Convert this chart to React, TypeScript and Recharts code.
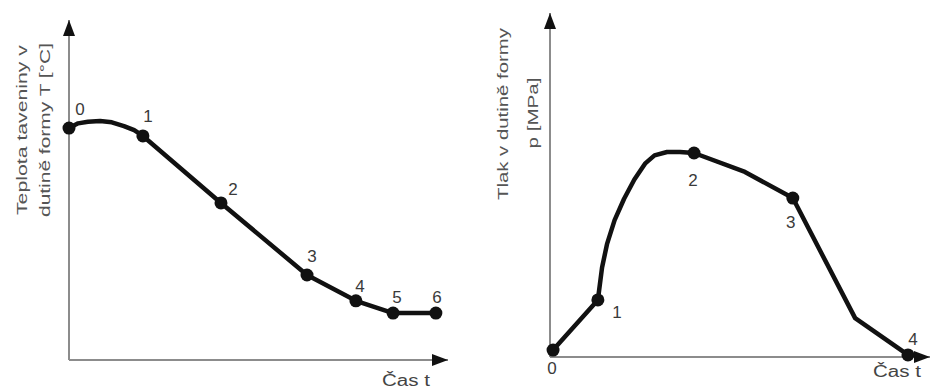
import { LineChart, Line, XAxis, YAxis } from "recharts"

// left: melt temperature in the mould cavity vs time (arbitrary units)
const leftTime = [0, 0.24, 0.5, 0.82, 1.13, 1.45, 1.72, 1.95, 4.01, 6.28, 7.57, 8.55, 9.68]
const leftTemp = [68.2, 69.6, 70.1, 70.3, 69.9, 68.8, 67.6, 65.9, 46.2, 25.0, 17.4, 13.8, 13.8]
const leftTags = ["0", null, null, null, null, null, null, "1", "2", "3", "4", "5", "6"]

// right: cavity pressure vs time (arbitrary units)
const rightTime = [0.08, 1.26, 1.37, 1.5, 1.7, 1.95, 2.22, 2.5, 2.75, 3.08, 3.42, 3.79, 5.13, 6.39, 8.03, 9.42]
const rightPress = [2.0, 16.6, 26.0, 32.8, 39.8, 46.0, 51.6, 56.2, 58.6, 59.6, 59.6, 59.3, 53.8, 46.2, 11.3, 0.6]
const rightTags = ["0", "1", null, null, null, null, null, null, null, null, null, "2", null, "3", null, "4"]

const leftData = leftTime.map((t, i) => ({ t, v: leftTemp[i], tag: leftTags[i] }))
const rightData = rightTime.map((t, i) => ({ t, v: rightPress[i], tag: rightTags[i] }))

const leftTagOffset: Record<string, [number, number]> = {
  "0": [11, -19], "1": [5, -19], "2": [12, -13], "3": [5, -19], "4": [4, -14], "5": [4, -16], "6": [1, -16],
}
const rightTagOffset: Record<string, [number, number]> = {
  "0": [-1, 18], "1": [19, 13], "2": [-1, 27], "3": [-2, 24], "4": [5, -15],
}

const FONT = "'Liberation Sans', Arial, sans-serif"

const makeDot = (offsets: Record<string, [number, number]>) => (props: any) => {
  const { cx, cy, payload, index } = props
  if (payload.tag == null) return <g key={index} />
  const [dx, dy] = offsets[payload.tag]
  return (
    <g key={index}>
      <circle cx={cx} cy={cy} r={6.5} fill="#111" />
      <text x={cx + dx} y={cy + dy} textAnchor="middle" dominantBaseline="central"
        fontSize={17} fill="#3a3a3a" fontFamily={FONT}>{payload.tag}</text>
    </g>
  )
}

const vText = (x: number, y: number, len: number, s: string) => (
  <text transform={`translate(${x},${y}) rotate(-90)`} textAnchor="middle" dominantBaseline="central"
    fontSize={15} fill="#555" fontFamily={FONT} textLength={len} lengthAdjust="spacingAndGlyphs">{s}</text>
)

const timeText = (x: number, y: number) => (
  <text x={x} y={y} textAnchor="middle" dominantBaseline="central" fontSize={16} fill="#444"
    fontFamily={FONT} textLength={48} lengthAdjust="spacingAndGlyphs">Čas t</text>
)

const xLine = { stroke: "#8c8c8c", strokeWidth: 2, markerEnd: "url(#axisArrow)" }
const yLine = { stroke: "#8c8c8c", strokeWidth: 2, markerStart: "url(#axisArrow)" }

export default function App() {
  return (
    <div style={{ position: "absolute", left: 0, top: 0, width: 932, height: 391, background: "#fff", fontFamily: FONT }}>
      <svg width={0} height={0} style={{ position: "absolute" }}>
        <defs>
          <marker id="axisArrow" viewBox="0 0 16 12" refX={16} refY={6} markerWidth={16} markerHeight={12}
            markerUnits="userSpaceOnUse" orient="auto-start-reverse">
            <path d="M0,0 L16,6 L0,12 z" fill="#111" />
          </marker>
        </defs>
      </svg>

      <div style={{ position: "absolute", left: 0, top: 0 }}>
        <LineChart width={470} height={391} data={leftData} margin={{ top: 20, right: 22, bottom: 1, left: 9 }}>
          <XAxis type="number" dataKey="t" domain={[0, 10]} tick={false} tickLine={false} axisLine={xLine}
            label={{ content: () => timeText(406, 380) }} />
          <YAxis type="number" domain={[0, 100]} tick={false} tickLine={false} axisLine={yLine}
            label={{ content: () => (
              <g>
                {vText(21, 130, 170, "Teplota taveniny v")}
                {vText(44, 130, 174, "dutině formy T [°C]")}
              </g>
            ) }} />
          <Line type="linear" dataKey="v" stroke="#111" strokeWidth={4.5} strokeLinejoin="round"
            dot={makeDot(leftTagOffset)} activeDot={false} isAnimationActive={false} />
        </LineChart>
      </div>

      <div style={{ position: "absolute", left: 470, top: 0 }}>
        <LineChart width={462} height={391} data={rightData} margin={{ top: 13, right: 2, bottom: 4, left: 20 }}>
          <XAxis type="number" dataKey="t" domain={[0, 10]} tick={false} tickLine={false} axisLine={xLine}
            label={{ content: () => timeText(427, 371) }} />
          <YAxis type="number" domain={[0, 100]} tick={false} tickLine={false} axisLine={yLine}
            label={{ content: () => (
              <g>
                {vText(32, 114, 172, "Tlak v dutině formy")}
                {vText(62, 113, 71, "p [MPa]")}
              </g>
            ) }} />
          <Line type="linear" dataKey="v" stroke="#111" strokeWidth={4.5} strokeLinejoin="round"
            dot={makeDot(rightTagOffset)} activeDot={false} isAnimationActive={false} />
        </LineChart>
      </div>
    </div>
  )
}
